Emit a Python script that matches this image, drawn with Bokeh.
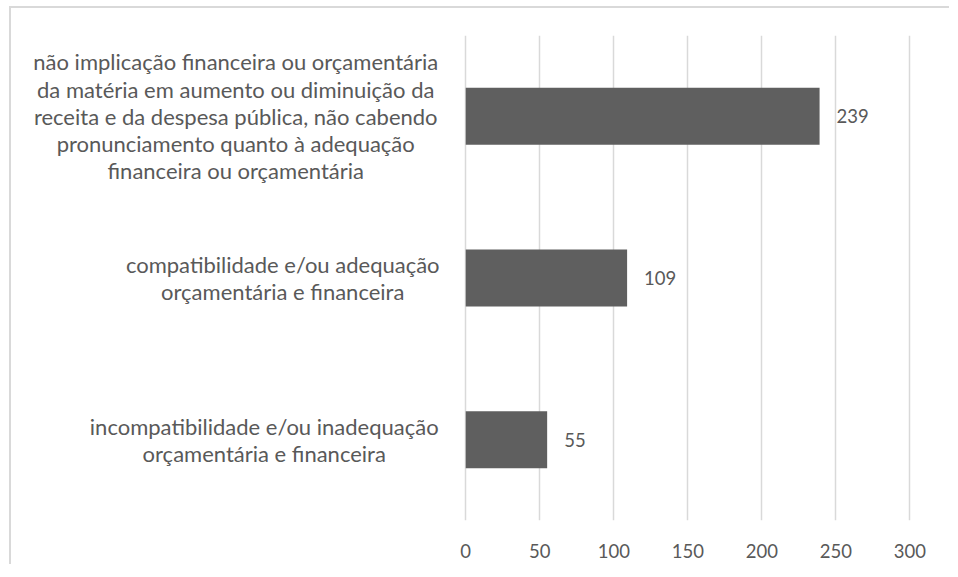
from bokeh.plotting import figure
from bokeh.models import FactorRange, FixedTicker, ColumnDataSource, LabelSet, Label, Range1d
from bokeh.core.properties import value
from bokeh.embed import file_html
from bokeh.resources import INLINE

# ---- data ----
categories = [
    "incompatibilidade e/ou inadequação\norçamentária e financeira",
    "compatibilidade e/ou adequação\norçamentária e financeira",
    "não implicação financeira ou orçamentária\nda matéria em aumento ou diminuição da\nreceita e da despesa pública, não cabendo\npronunciamento quanto à adequação\nfinanceira ou orçamentária",
]
values = [55, 109, 239]
x_ticks = [0, 50, 100, 150, 200, 250, 300]

# ---- layout constants ----
FONT = "Lato"
TXT = "#595959"
GRID = "#d9d9d9"
label_x_offsets = [-201.5, -183, -230]

p = figure(
    width=940, height=558,
    y_range=FactorRange(*categories),
    x_range=Range1d(-301.4, 320),
    output_backend="svg", toolbar_location=None,
    y_axis_location=None,
    min_border_left=8, min_border_right=12, min_border_top=27, min_border_bottom=46,
)
p.outline_line_color = None
p.styles = {"border-top": "2px solid #d9d9d9", "border-left": "2px solid #d9d9d9",
            "margin-left": "9px", "margin-top": "6px"}

src = ColumnDataSource(dict(cat=categories, val=values, txt=[str(v) for v in values]))

p.hbar(y="cat", right="val", left=0, height=0.353, source=src,
       fill_color="#5f5f5f", line_color=None)

p.add_layout(LabelSet(x="val", y="cat", text="txt", source=src, x_offset=17,
                      text_font=value(FONT), text_font_size="18.5px", text_color=TXT,
                      text_align="left", text_baseline="middle"))

# category labels (numeric centre of each factor in the categorical range)
for i, (cat, xo) in enumerate(zip(categories, label_x_offsets)):
    p.add_layout(Label(x=0, y=i + 0.5, text=cat, x_offset=xo,
                       text_font=FONT, text_font_size="22px", text_color=TXT,
                       text_align="center", text_baseline="middle",
                       text_line_height=1.01))

p.xaxis.ticker = FixedTicker(ticks=x_ticks)
p.xaxis.axis_line_color = None
p.xaxis.major_tick_line_color = None
p.xaxis.minor_tick_line_color = None
p.xaxis.major_tick_out = 0
p.xaxis.major_label_standoff = 23
p.xaxis.major_label_text_font = FONT
p.xaxis.major_label_text_font_size = "18.5px"
p.xaxis.major_label_text_color = TXT

p.xgrid.grid_line_color = GRID
p.xgrid.grid_line_width = 1.5
p.ygrid.grid_line_color = None

open("out.html", "w").write(file_html(p, INLINE))
